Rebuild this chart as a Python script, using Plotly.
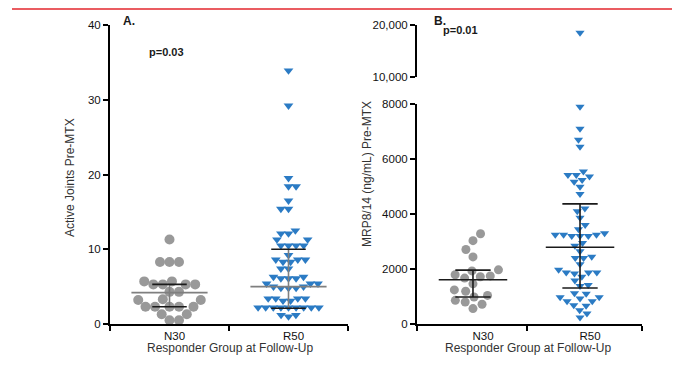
import numpy as np
import plotly.graph_objects as go

# ---------------- data ----------------
categories = ["N30", "R50"]

# Panel A: Active joints pre-MTX
a_n30 = [11.3, 8.3, 8.3, 8.3, 5.3, 5.3, 5.7, 5.7, 5.3, 5.3, 4.3, 4.3,
         3.2, 3.3, 3.2, 2.3, 2.3, 2.3, 2.3, 2.3, 1.3, 1.3, 0.5, 0.5]
a_r50 = [33.9, 29.2, 19.5, 18.4, 18.4, 16.5, 15.4, 15.4, 12.5, 12.1, 12.1,
         11.3, 11.3, 10.5, 10.5, 10.5, 10.5, 9.2, 8.6, 8.6, 8.6, 8.3, 8.3,
         7.4, 7.4, 6.3, 6.3, 6.1, 6.1, 6.1, 5.4, 5.4, 5.4, 5.0, 5.0, 4.8,
         4.8, 4.8, 3.4, 3.4, 3.4, 3.4, 3.1, 3.1, 2.2, 2.2, 2.2, 2.2, 2.2,
         2.2, 2.2, 2.2, 2.2, 1.2, 1.2, 1.0]
a_center = [4.2, 5.0]
a_low = [2.3, 2.1]
a_high = [5.3, 10.0]

# Panel B: MRP8/14 (ng/mL) pre-MTX
b_n30 = [3280, 3030, 2710, 2440, 1970, 1930, 1720, 1670, 1750, 1790, 1460,
         1190, 1240, 980, 1040, 800, 860, 560, 720]
b_r50 = [18500, 7900, 7100, 6700, 6450, 5550, 5420, 5420, 5360, 5240, 5170,
         4990, 4730, 4200, 4100, 3860, 3600, 3450, 3300, 3250, 3200, 3200,
         3200, 3250, 3250, 2950, 2850, 2650, 2400, 2400, 2450, 2170, 1970,
         1870, 1840, 1870, 1870, 1720, 1580, 1380, 1420, 1120, 1100, 970,
         930, 970, 830, 830, 680, 660, 500, 380, 240]
b_center = [1610, 2790]
b_low = [980, 1310]
b_high = [1960, 4370]

a_ticks = [0, 10, 20, 30, 40]
b_low_ticks = [0, 2000, 4000, 6000, 8000]
b_low_ticktext = ["0", "2000", "4000", "6000", "8000"]
b_up_ticks = [10000, 20000]
b_up_ticktext = ["10,000", "20,000"]

# ---------------- layout geometry ----------------
OFF = 8                      # page body margin of the browser
W, H = 680 - OFF, 372 - OFF
TOP, BOT = 25, 324           # plot area top / bottom (page px)
M_T, M_B = TOP - OFF, H - (BOT - OFF)
PH = BOT - TOP
A_X0, A_X1 = 110, 348
B_X0, B_X1 = 417, 642
A_RANGE = [-0.5, 1.5]
B_RANGE = [-0.523, 1.579]
A_YRANGE = [0, 40]
B_LOW_RANGE = [0, 8000]
B_UP_RANGE = [10000, 20000]
B_LOW_TOP, B_UP_BOT = 104, 77
B_LOW_DOM = [0, (BOT - B_LOW_TOP) / PH]
B_UP_DOM = [(BOT - B_UP_BOT) / PH, 1]

FONT = "Liberation Sans, Arial, sans-serif"
GREY = "#999999"
BLUE = "#2b7bc4"


def px(xpage):
    return (xpage - OFF) / W


def py(ypage):
    return (BOT - ypage) / PH


def swarm(values, px_per_unit, wx, wy):
    vals = np.asarray(values, dtype=float)
    order = np.argsort(vals, kind="stable")
    placed = []
    xs = np.zeros(len(vals))
    flip = 1
    for idx in order:
        y = vals[idx] * px_per_unit
        cands = [0.0]
        for (px_, py_) in placed:
            dy = abs(y - py_)
            if dy < wy:
                dx = wx * np.sqrt(1 - (dy / wy) ** 2)
                cands += [px_ + dx, px_ - dx]

        def ok(c):
            for (px_, py_) in placed:
                ddx = (c - px_) / wx
                ddy = (y - py_) / wy
                if ddx * ddx + ddy * ddy < 0.999:
                    return False
            return True

        valid = [c for c in cands if ok(c)]
        best = min(valid, key=lambda c: (round(abs(c), 2), -flip * c))
        if best != 0:
            flip = -flip
        placed.append((best, y))
        xs[idx] = best
    return xs


fig = go.Figure()

# --- Panel A ---
a_ppu_y = PH / (A_YRANGE[1] - A_YRANGE[0])
a_ppu_x = (A_X1 - A_X0) / (A_RANGE[1] - A_RANGE[0])
for ci, (vals, sym, col, size, wx, wy) in enumerate([
        (a_n30, "circle", GREY, 10, 9.5, 10.5),
        (a_r50, "triangle-down", BLUE, 8.5, 7.6, 7.0)]):
    off = swarm(vals, a_ppu_y, wx, wy) / a_ppu_x
    fig.add_trace(go.Scatter(
        x=ci + off, y=vals, mode="markers", xaxis="x", yaxis="y",
        marker=dict(symbol=sym, color=col, size=size, line=dict(width=0)),
        cliponaxis=False, showlegend=False, hoverinfo="y"))

# --- Panel B ---
b_ppu_low = (BOT - B_LOW_TOP) / (B_LOW_RANGE[1] - B_LOW_RANGE[0])
b_ppu_up = (PH * (B_UP_DOM[1] - B_UP_DOM[0])) / (B_UP_RANGE[1] - B_UP_RANGE[0])
b_ppu_x = (B_X1 - B_X0) / (B_RANGE[1] - B_RANGE[0])
for ci, (vals, sym, col, size, wx, wy) in enumerate([
        (b_n30, "circle", GREY, 9, 10.0, 10.5),
        (b_r50, "triangle-down", BLUE, 8, 8.3, 7.0)]):
    vals = np.asarray(vals, dtype=float)
    low = vals[vals <= B_LOW_RANGE[1]]
    up = vals[vals > B_LOW_RANGE[1]]
    off_low = swarm(low, b_ppu_low, wx, wy) / b_ppu_x
    fig.add_trace(go.Scatter(
        x=ci + off_low, y=low, mode="markers", xaxis="x2", yaxis="y2",
        marker=dict(symbol=sym, color=col, size=size, line=dict(width=0)),
        cliponaxis=False, showlegend=False, hoverinfo="y"))
    if len(up):
        off_up = swarm(up, b_ppu_up, wx, wy) / b_ppu_x
        fig.add_trace(go.Scatter(
            x=ci + off_up, y=up, mode="markers", xaxis="x2", yaxis="y3",
            marker=dict(symbol=sym, color=col, size=size, line=dict(width=0)),
            cliponaxis=False, showlegend=False, hoverinfo="y"))


def stat_lines(center, lo, hi, xa, ya, ccol, capcol, vcol, half_c, half_cap):
    for ci in range(len(center)):
        fig.add_trace(go.Scatter(
            x=[ci, ci], y=[lo[ci], hi[ci]], mode="lines", xaxis=xa, yaxis=ya,
            line=dict(color=vcol, width=1.6), showlegend=False, hoverinfo="skip"))
        fig.add_trace(go.Scatter(
            x=[ci - half_c, ci + half_c], y=[center[ci], center[ci]], mode="lines",
            xaxis=xa, yaxis=ya, line=dict(color=ccol, width=1.6),
            showlegend=False, hoverinfo="skip"))
        for v in (lo[ci], hi[ci]):
            fig.add_trace(go.Scatter(
                x=[ci - half_cap, ci + half_cap], y=[v, v], mode="lines",
                xaxis=xa, yaxis=ya, line=dict(color=capcol, width=1.6),
                showlegend=False, hoverinfo="skip"))


stat_lines(a_center, a_low, a_high, "x", "y", "#7f7f7f", "#1a1a1a", "#7f7f7f", 0.32, 0.145)
stat_lines(b_center, b_low, b_high, "x2", "y2", "#1a1a1a", "#1a1a1a", "#1a1a1a", 0.32, 0.165)

axis_common = dict(showgrid=False, zeroline=False, showline=True, linecolor="black",
                   linewidth=2, tickfont=dict(family=FONT, size=11.5, color="#111111"),
                   fixedrange=True)


def xax(dom, rng, anchor, shift):
    return dict(axis_common, domain=dom, range=rng, anchor=anchor,
                tickmode="array", tickvals=[0, 1], ticktext=categories, ticks="",
                ticklen=0, ticklabelshift=shift, ticklabelstandoff=0,
                minor=dict(tickmode="array", tickvals=[rng[0], 0.5, rng[1]],
                           ticks="outside", ticklen=5, tickwidth=2, tickcolor="black"))


def yax(dom, rng, anchor, tv, tt):
    return dict(axis_common, domain=dom, range=rng, anchor=anchor,
                tickmode="array", tickvals=tv, ticktext=tt, ticks="outside",
                ticklen=5, tickwidth=2, tickcolor="black")


fig.update_layout(
    width=W, height=H,
    margin=dict(l=0, r=0, t=M_T, b=M_B, pad=0),
    paper_bgcolor="white", plot_bgcolor="white",
    font=dict(family=FONT, size=11, color="#1a1a1a"),
    xaxis=xax([px(A_X0), px(A_X1)], A_RANGE, "y", 5),
    yaxis=yax([0, 1], A_YRANGE, "x", a_ticks, [str(t) for t in a_ticks]),
    xaxis2=xax([px(B_X0), px(B_X1)], B_RANGE, "y2", 10),
    yaxis2=yax(B_LOW_DOM, B_LOW_RANGE, "x2", b_low_ticks, b_low_ticktext),
    yaxis3=yax(B_UP_DOM, B_UP_RANGE, "x2", b_up_ticks, b_up_ticktext),
)

ann = [
    dict(text="Active Joints Pre-MTX", x=px(70), y=py(178), textangle=-90,
         font=dict(size=12, color="#333333")),
    dict(text="MRP8/14 (ng/mL) Pre-MTX", x=px(367), y=py(174), textangle=-90,
         font=dict(size=12, color="#333333")),
    dict(text="Responder Group at Follow-Up", x=px(230), y=py(348),
         font=dict(size=12, color="#333333")),
    dict(text="Responder Group at Follow-Up", x=px(528), y=py(348),
         font=dict(size=12, color="#333333")),
    dict(text="<b>p=0.03</b>", x=px(147), y=py(52), xanchor="left",
         font=dict(size=11, color="#1a1a1a")),
    dict(text="<b>p=0.01</b>", x=px(441), y=py(30), xanchor="left",
         font=dict(size=11, color="#1a1a1a")),
    dict(text="<b>A.</b>", x=px(121), y=py(21), xanchor="left",
         font=dict(size=12, color="#1a1a1a")),
    dict(text="<b>B.</b>", x=px(432), y=py(21), xanchor="left",
         font=dict(size=12, color="#1a1a1a")),
]
for a in ann:
    a.setdefault("xanchor", "center")
    fig.add_annotation(xref="paper", yref="paper", showarrow=False,
                       yanchor="middle", font_family=FONT, **a)

fig.add_shape(type="line", xref="paper", yref="paper", x0=px(12), x1=1,
              y0=py(OFF + 1), y1=py(OFF + 1), line=dict(color="#e3262d", width=1.5))

fig.write_html("out.html")
